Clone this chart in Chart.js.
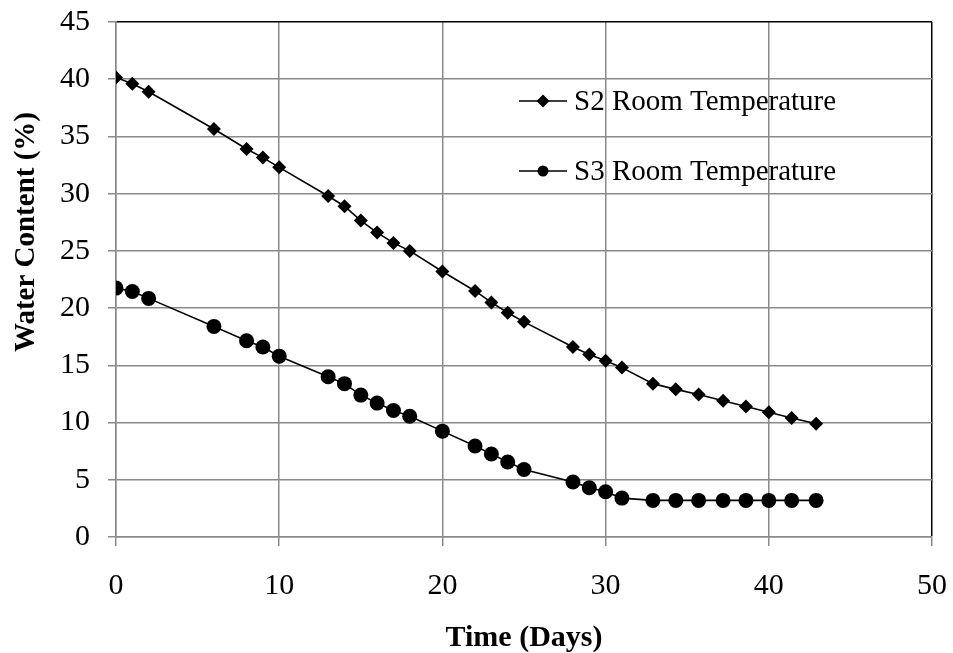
<!DOCTYPE html>
<html>
<head>
<meta charset="utf-8">
<script src="https://cdn.jsdelivr.net/npm/chart.js@4"></script>
<style>
  body { margin: 0; background: #fff; }
  #chart { display: block; }
</style>
</head>
<body>
<canvas id="chart" width="953" height="653"></canvas>
<script>
// days of measurement (shared by both series)
const days = [0, 1, 2, 6, 8, 9, 10, 13, 14, 15, 16, 17, 18, 20, 22, 23, 24, 25, 28, 29, 30, 31,
    32.9, 34.3, 35.7, 37.2, 38.6, 40, 41.4, 42.9];
const s2Values = [40.15, 39.6, 38.9, 35.65, 33.9, 33.15, 32.3, 29.8, 28.9, 27.65, 26.6, 25.7, 25.0,
    23.2, 21.5, 20.5, 19.6, 18.8, 16.6, 15.95, 15.4, 14.8, 13.4, 12.9, 12.45, 11.9, 11.4, 10.9, 10.4, 9.9];
const s3Values = [21.75, 21.45, 20.85, 18.4, 17.15, 16.6, 15.8, 14.0, 13.4, 12.4, 11.7, 11.05, 10.55,
    9.25, 7.95, 7.25, 6.55, 5.9, 4.8, 4.3, 3.95, 3.4, 3.2, 3.2, 3.2, 3.2, 3.2, 3.2, 3.2, 3.2];
const seriesNames = ['S2 Room Temperature', 'S3 Room Temperature'];
const xTicks = [0, 10, 20, 30, 40, 50];
const yTicks = [0, 5, 10, 15, 20, 25, 30, 35, 40, 45];

const FONT = '"Liberation Serif", "Times New Roman", serif';
const GRID = '#8a8a8a';

function toPoints(xs, ys) {
    return xs.map((x, i) => ({ x: x, y: ys[i] }));
}

// keep the plot box where the original has it, ignore label overflow
function noOverflow(axis) {
    axis.paddingLeft = 0;
    axis.paddingRight = 0;
    axis.paddingTop = 0;
    axis.paddingBottom = 0;
}

// legend inside the plot and the vertical axis title
const extras = {
    id: 'extras',
    afterDatasetsDraw(chart) {
        const ctx = chart.ctx;
        const rows = [101, 171];
        chart.data.datasets.forEach((ds, i) => {
            const y = rows[i];
            ctx.save();
            ctx.strokeStyle = ds.borderColor;
            ctx.lineWidth = ds.borderWidth;
            ctx.beginPath();
            ctx.moveTo(519, y);
            ctx.lineTo(567, y);
            ctx.stroke();
            ctx.fillStyle = '#000';
            Chart.helpers.drawPoint(ctx, {
                pointStyle: ds.pointStyle,
                radius: ds.pointStyle === 'circle' ? 5.5 : 6.5,
                borderWidth: 0
            }, 543, y);
            ctx.font = '29px ' + FONT;
            ctx.textBaseline = 'middle';
            ctx.textAlign = 'left';
            ctx.fillText(ds.label, 574, y + 1);
            ctx.restore();
        });

        ctx.save();
        ctx.translate(27, 232);
        ctx.rotate(-Math.PI / 2);
        ctx.font = 'bold 29px ' + FONT;
        ctx.fillStyle = '#000';
        ctx.textAlign = 'center';
        ctx.textBaseline = 'middle';
        ctx.fillText('Water Content (%)', 0, 0);
        ctx.restore();
    }
};

new Chart(document.getElementById('chart').getContext('2d'), {
    type: 'scatter',
    data: {
        datasets: [{
            label: seriesNames[0],
            data: toPoints(days, s2Values),
            showLine: true,
            borderColor: '#000',
            backgroundColor: '#000',
            borderWidth: 1.6,
            pointStyle: 'rectRot',
            pointRadius: 7,
            pointBorderWidth: 0
        }, {
            label: seriesNames[1],
            data: toPoints(days, s3Values),
            showLine: true,
            borderColor: '#000',
            backgroundColor: '#000',
            borderWidth: 1.6,
            pointStyle: 'circle',
            pointRadius: 7.5,
            pointBorderWidth: 0
        }]
    },
    options: {
        responsive: false,
        animation: false,
        layout: { padding: { top: 22, right: 21, left: 0, bottom: 0 } },
        plugins: {
            legend: { display: false },
            tooltip: { enabled: false }
        },
        scales: {
            x: {
                type: 'linear',
                min: 0,
                max: 50,
                afterFit(axis) { axis.height = 116; noOverflow(axis); },
                afterBuildTicks(axis) { axis.ticks = xTicks.map(v => ({ value: v })); },
                grid: {
                    color: c => (c.tick && c.tick.value === 50 ? '#000' : GRID),
                    lineWidth: 1.5,
                    tickLength: 9,
                    tickColor: GRID
                },
                border: { color: GRID, width: 1.5 },
                ticks: {
                    color: '#000',
                    padding: 22,
                    maxRotation: 0,
                    font: { family: FONT, size: 30 }
                },
                title: {
                    display: true,
                    text: 'Time (Days)',
                    color: '#000',
                    padding: { top: 0, bottom: 0 },
                    font: { family: FONT, size: 30, weight: 'bold', lineHeight: 1 }
                }
            },
            y: {
                min: 0,
                max: 45,
                afterFit(axis) { axis.width = 116; noOverflow(axis); },
                afterBuildTicks(axis) { axis.ticks = yTicks.map(v => ({ value: v })); },
                grid: {
                    color: c => (c.tick && c.tick.value === 45 ? '#000' : GRID),
                    lineWidth: 1.5,
                    tickLength: 8,
                    tickColor: GRID
                },
                border: { color: GRID, width: 1.5 },
                ticks: {
                    color: '#000',
                    padding: 18,
                    font: { family: FONT, size: 30 }
                }
            }
        }
    },
    plugins: [extras]
});
</script>
</body>
</html>
